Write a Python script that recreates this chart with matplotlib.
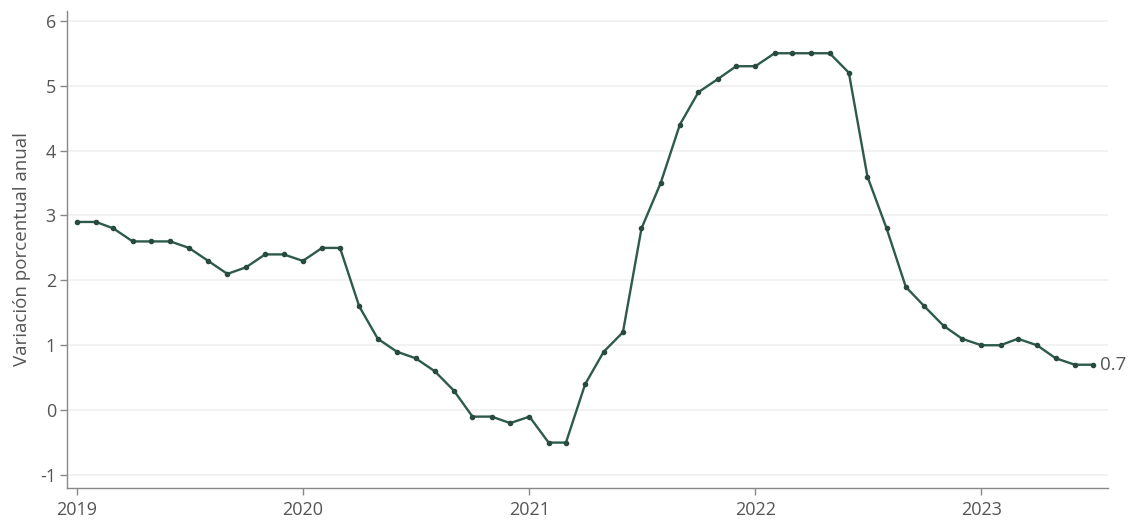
import matplotlib
matplotlib.use("Agg")
import matplotlib.pyplot as plt
import pandas as pd

plt.rcParams['font.family'] = ['Open Sans', 'DejaVu Sans']

start = "2019-01-01"
values = [
    2.9, 2.9, 2.8, 2.6, 2.6, 2.6, 2.5, 2.3, 2.1, 2.2, 2.4, 2.4,
    2.3, 2.5, 2.5, 1.6, 1.1, 0.9, 0.8, 0.6, 0.3, -0.1, -0.1, -0.2,
    -0.1, -0.5, -0.5, 0.4, 0.9, 1.2, 2.8, 3.5, 4.4, 4.9, 5.1, 5.3,
    5.3, 5.5, 5.5, 5.5, 5.5, 5.2, 3.6, 2.8, 1.9, 1.6, 1.3, 1.1,
    1.0, 1.0, 1.1, 1.0, 0.8, 0.7, 0.7,
]
dates = pd.date_range(start, periods=len(values), freq="MS")
year_ticks = ["2019", "2020", "2021", "2022", "2023"]
y_ticks = [-1, 0, 1, 2, 3, 4, 5, 6]
ylabel = "Variación porcentual anual"
end_label = "0.7"

line_color = "#2d5a4b"
text_color = "#555555"
spine_color = "#888888"

fig = plt.figure(figsize=(11.36, 5.27), dpi=100)
ax = fig.add_axes([0.059, 0.074, 0.916, 0.905])

ax.plot(dates, values, color=line_color, lw=1.7, marker="o", ms=3,
        mfc="#284a3f", mec="#284a3f", zorder=3)

ax.set_ylim(-1.2, 6.15)
ax.set_xlim(dates[0] - pd.Timedelta(days=16), dates[-1] + pd.Timedelta(days=23))

ax.set_yticks(y_ticks)
ax.set_yticklabels([str(v) for v in y_ticks])
tick_dates = [pd.Timestamp(f"{y}-01-01") for y in year_ticks]
ax.set_xticks(tick_dates)
ax.set_xticklabels(year_ticks)

ax.grid(axis="y", color="#f0f0f0", lw=1.2)
ax.set_axisbelow(True)
for s in ["top", "right"]:
    ax.spines[s].set_visible(False)
for s in ["left", "bottom"]:
    ax.spines[s].set_color(spine_color)
    ax.spines[s].set_linewidth(1.0)

ax.tick_params(axis="both", colors=spine_color, labelcolor=text_color,
               labelsize=13, length=5, width=1)
ax.tick_params(axis="x", pad=4)
ax.tick_params(axis="y", pad=3)
ax.set_ylabel(ylabel, color=text_color, fontsize=13.5, labelpad=6)

ax.annotate(end_label, xy=(dates[-1], values[-1]), xytext=(5, 0),
            textcoords="offset points", va="center", ha="left",
            color=text_color, fontsize=13.5)

fig.savefig("out.png", dpi=100)
